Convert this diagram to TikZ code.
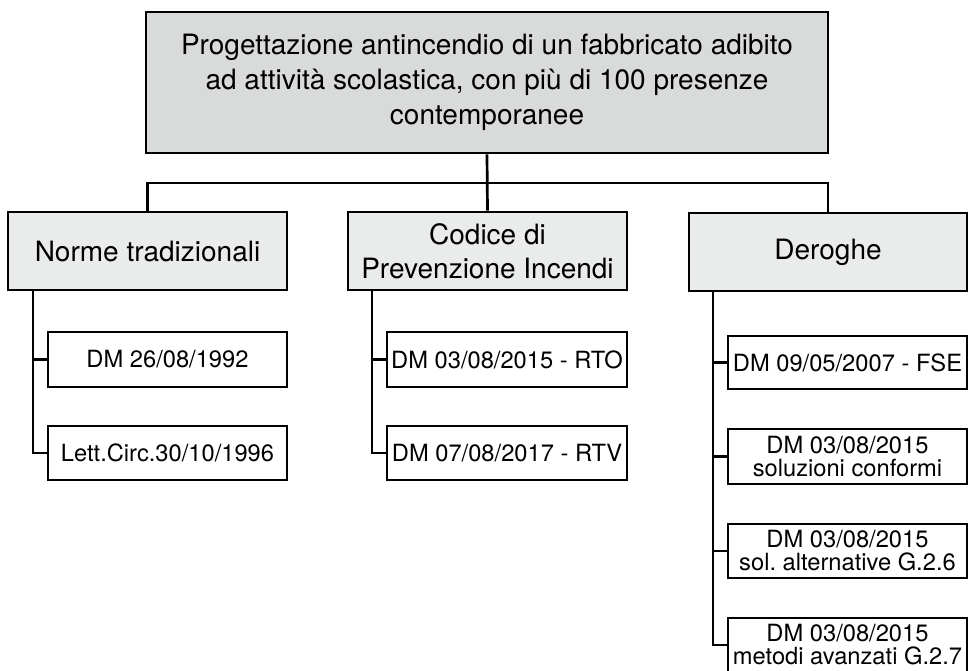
\documentclass[tikz,border=0pt]{standalone}
\usepackage{fontspec}
\setmainfont{TeX Gyre Heros}
\frenchspacing
\definecolor{topgray}{RGB}{217,218,218}
\definecolor{headgray}{RGB}{234,235,235}
\begin{document}
\begin{tikzpicture}[x=1pt,y=-1pt,line width=2.7pt,
  basebox/.style={draw=black,rectangle,inner sep=0pt,align=center,anchor=center},
  topbox/.style={basebox,fill=topgray,font=\fontsize{28}{35}\selectfont},
  headbox/.style={basebox,fill=headgray,minimum width=279pt,minimum height=78pt,font=\fontsize{28}{34}\selectfont},
  leafbox/.style={basebox,fill=white,minimum width=239pt,minimum height=54pt,font=\fontsize{23.7}{23}\selectfont},
  conn/.style={draw=black,line width=2.7pt}]
\clip (0,0) rectangle (970,670);
\fill[white] (0,0) rectangle (970,670);
% top
\node[topbox,minimum width=682pt,minimum height=141pt] (top) at (487,82.5)
  {Progettazione antincendio di un fabbricato adibito\\ad attività scolastica, con più di 100 presenze\\contemporanee};
% headers
\node[headbox] (norme) at (147.5,251) {Norme tradizionali};
\node[headbox] (cod) at (487.5,251) {Codice di\\Prevenzione Incendi};
\node[headbox,minimum width=278pt] (der) at (828,252) {Deroghe};
% leaves
\node[leafbox,minimum height=55pt] (n1) at (167.5,359.5) {DM 26/08/1992};
\node[leafbox] (n2) at (167.5,453) {Lett.Circ.30/10/1996};
\node[leafbox,minimum width=240pt,minimum height=55pt] (c1) at (507,359.5) {DM 03/08/2015 - RTO};
\node[leafbox,minimum width=240pt] (c2) at (507,453) {DM 07/08/2017 - RTV};
\node[leafbox,minimum height=53pt] (d1) at (847.5,362.5) {DM 09/05/2007 - FSE};
\node[leafbox,minimum height=55pt] (d2) at (847.5,456.5) {DM 03/08/2015\\soluzioni conformi};
\node[leafbox] (d3) at (847.5,551) {DM 03/08/2015\\sol. alternative G.2.6};
\node[leafbox] (d4) at (847.5,645) {DM 03/08/2015\\metodi avanzati G.2.7};
% bus
\coordinate (bus) at (487,183);
\draw[conn] (top.south) -- (cod.north);
\draw[conn] (norme.north) |- (bus) -| (der.north);
% spines
\coordinate (ns) at (33,290);
\coordinate (cs) at (372,290);
\coordinate (ds) at (713,291);
\draw[conn] (ns) |- (n2.west);
\draw[conn] (ns |- n1.west) -- (n1.west);
\draw[conn] (cs) |- (c2.west);
\draw[conn] (cs |- c1.west) -- (c1.west);
\draw[conn] (ds) |- (d4.west);
\draw[conn] (ds |- d1.west) -- (d1.west);
\draw[conn] (ds |- d2.west) -- (d2.west);
\draw[conn] (ds |- d3.west) -- (d3.west);
\end{tikzpicture}
\end{document}
